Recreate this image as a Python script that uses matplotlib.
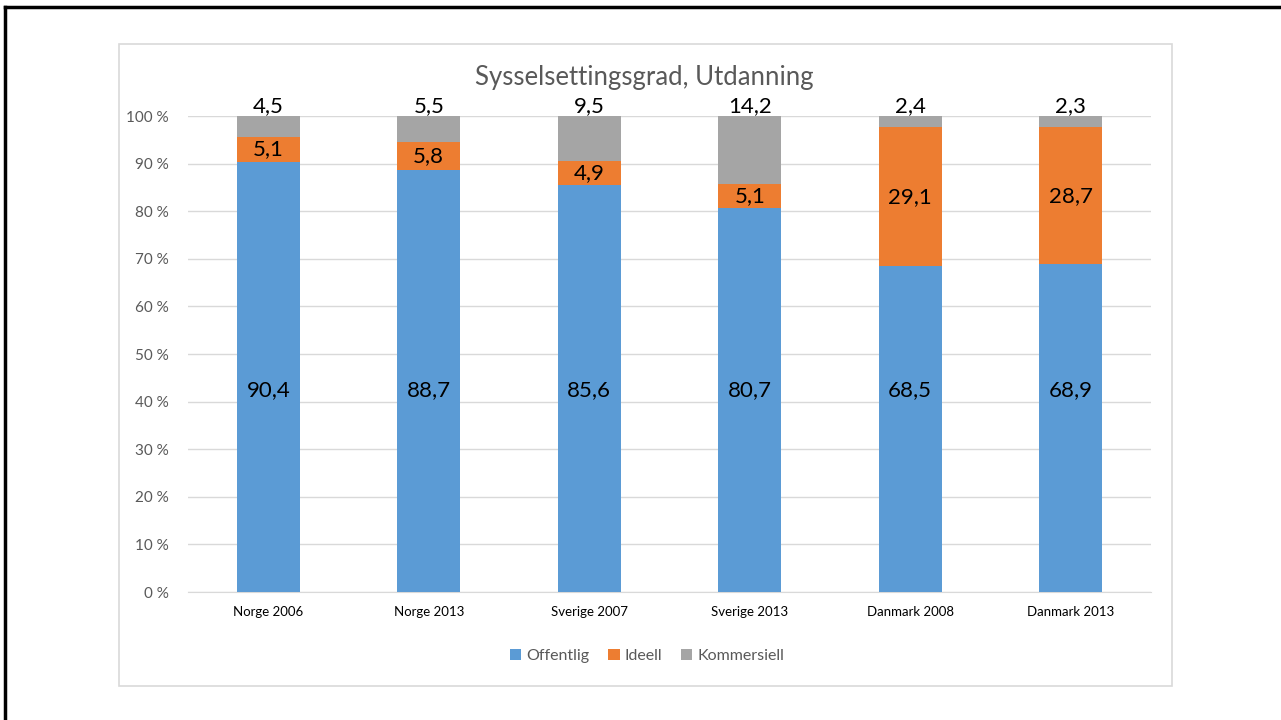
import matplotlib.pyplot as plt
from matplotlib.patches import Rectangle
from matplotlib.lines import Line2D

plt.rcParams['font.family'] = ['Lato', 'DejaVu Sans']

kategorier = ["Norge 2006", "Norge 2013", "Sverige 2007", "Sverige 2013", "Danmark 2008", "Danmark 2013"]
offentlig = [90.4, 88.7, 85.6, 80.7, 68.5, 68.9]
ideell = [5.1, 5.8, 4.9, 5.1, 29.1, 28.7]
kommersiell = [4.5, 5.5, 9.5, 14.2, 2.4, 2.3]
yticks = [0, 10, 20, 30, 40, 50, 60, 70, 80, 90, 100]

blaa = "#5B9BD5"
oransje = "#ED7D31"
graa = "#A5A5A5"
tekstgraa = "#595959"

fig = plt.figure(figsize=(12.81, 7.2), dpi=100)

# ramme rundt skjermbildet (bare topp og venstre)
fig.add_artist(Line2D([5/1281, 5/1281], [0, 1 - 7/720], color="black", lw=2.5, transform=fig.transFigure))
fig.add_artist(Line2D([5/1281, 1], [1 - 7/720, 1 - 7/720], color="black", lw=2.5, transform=fig.transFigure))

# diagramramme
fig.add_artist(Rectangle((119/1281, 1 - 686/720), (1172 - 119)/1281, (686 - 44)/720,
                         fill=False, edgecolor="#D9D9D9", lw=1.2, transform=fig.transFigure))

ax = fig.add_axes([188/1281, 1 - 592/720, (1151 - 188)/1281, 476/720])
x = list(range(len(kategorier)))
bunn2 = [a + b for a, b in zip(offentlig, ideell)]
b = 0.39
ax.bar(x, offentlig, b, color=blaa, label="Offentlig", zorder=3)
ax.bar(x, ideell, b, bottom=offentlig, color=oransje, label="Ideell", zorder=3)
ax.bar(x, kommersiell, b, bottom=bunn2, color=graa, label="Kommersiell", zorder=3)

for i in x:
    ax.text(i, 42.4, f"{offentlig[i]:.1f}".replace(".", ","), ha="center", va="center", fontsize=16, zorder=4)
    ax.text(i, offentlig[i] + ideell[i] / 2, f"{ideell[i]:.1f}".replace(".", ","), ha="center", va="center", fontsize=16, zorder=4)
    ax.text(i, 100.0, f"{kommersiell[i]:.1f}".replace(".", ","), ha="center", va="bottom", fontsize=16, zorder=4)

ax.set_xlim(-0.5, 5.5)
ax.set_ylim(0, 100)
ax.set_yticks(yticks)
ax.set_yticklabels([f"{v} %" for v in yticks], color=tekstgraa, fontsize=11)
ax.set_xticks(x)
ax.set_xticklabels(kategorier, fontsize=9.5)
ax.tick_params(length=0)
ax.tick_params(axis="y", pad=14)
ax.tick_params(axis="x", pad=10)
ax.grid(axis="y", color="#D9D9D9", lw=1, zorder=0)
for s in ["top", "right", "left"]:
    ax.spines[s].set_visible(False)
ax.spines["bottom"].set_color("#D9D9D9")

fig.text(644/1281, 1 - 77/720, "Sysselsettingsgrad, Utdanning", ha="center", va="center",
         fontsize=18.5, color=tekstgraa)

fig.legend(loc="center", bbox_to_anchor=(647/1281, 1 - 656/720), ncol=3, frameon=False,
           handlelength=0.7, handleheight=0.7, handletextpad=0.3, columnspacing=1.2,
           fontsize=11.5, labelcolor=tekstgraa)

fig.savefig("out.png", dpi=100)
